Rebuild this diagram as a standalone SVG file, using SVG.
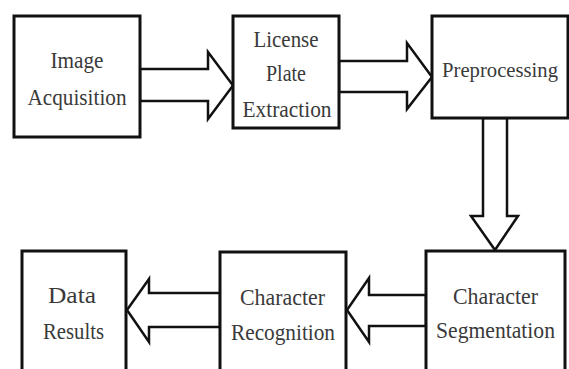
<svg xmlns="http://www.w3.org/2000/svg" width="569" height="369" viewBox="0 0 569 369">
<style>
.box{fill:#fff;stroke:#111;stroke-width:3}
.arr{fill:#fff;stroke:#111;stroke-width:2.5;stroke-linejoin:miter}
.t{font-family:"Liberation Serif","Times New Roman",serif;font-size:24px;fill:#3a3a3a;text-anchor:middle}
</style>
<rect width="569" height="369" fill="#fff"/>
<g id="connectors">
<polygon class="arr" points="140,69 208,69 208,52 233,85.5 208,119 208,101 140,101"/>
<polygon class="arr" points="339,61 407,61 407,43 432,77 407,109 407,92 339,92"/>
<polygon class="arr" points="483,118 483,216 471,216 495,250 518,216 507,216 507,118"/>
<polygon class="arr" points="220,293 149,293 149,279 127,310 149,342 149,327 220,327"/>
<polygon class="arr" points="426,295 369,295 369,278 347,310 369,342 369,326 426,326"/>
</g>
<g id="image-acquisition">
<rect class="box" x="14" y="16" width="126" height="121"/>
<text class="t" x="77" y="68" textLength="53" lengthAdjust="spacingAndGlyphs">Image</text>
<text class="t" x="77" y="105" textLength="99" lengthAdjust="spacingAndGlyphs">Acquisition</text>
</g>
<g id="license-plate-extraction">
<rect class="box" x="233" y="16" width="106" height="112"/>
<text class="t" x="286" y="47" textLength="65" lengthAdjust="spacingAndGlyphs">License</text>
<text class="t" x="286" y="81" textLength="40" lengthAdjust="spacingAndGlyphs">Plate</text>
<text class="t" x="287" y="117" textLength="89" lengthAdjust="spacingAndGlyphs">Extraction</text>
</g>
<g id="preprocessing">
<rect class="box" x="432" y="16" width="136" height="102"/>
<text class="t" x="500" y="77" font-size="22" style="font-size:22px" textLength="116" lengthAdjust="spacingAndGlyphs">Preprocessing</text>
</g>
<g id="data-results">
<rect class="box" x="22" y="251" width="104" height="130"/>
<text class="t" x="72" y="303" textLength="48" lengthAdjust="spacingAndGlyphs">Data</text>
<text class="t" x="73.5" y="339" textLength="61" lengthAdjust="spacingAndGlyphs">Results</text>
</g>
<g id="character-recognition">
<rect class="box" x="220" y="252" width="126" height="130"/>
<text class="t" x="282.5" y="305" textLength="85" lengthAdjust="spacingAndGlyphs">Character</text>
<text class="t" x="283" y="340" textLength="104" lengthAdjust="spacingAndGlyphs">Recognition</text>
</g>
<g id="character-segmentation">
<rect class="box" x="426" y="251" width="139" height="130"/>
<text class="t" x="495.5" y="304" textLength="85" lengthAdjust="spacingAndGlyphs">Character</text>
<text class="t" x="495.5" y="338" textLength="119" lengthAdjust="spacingAndGlyphs">Segmentation</text>
</g>
</svg>
